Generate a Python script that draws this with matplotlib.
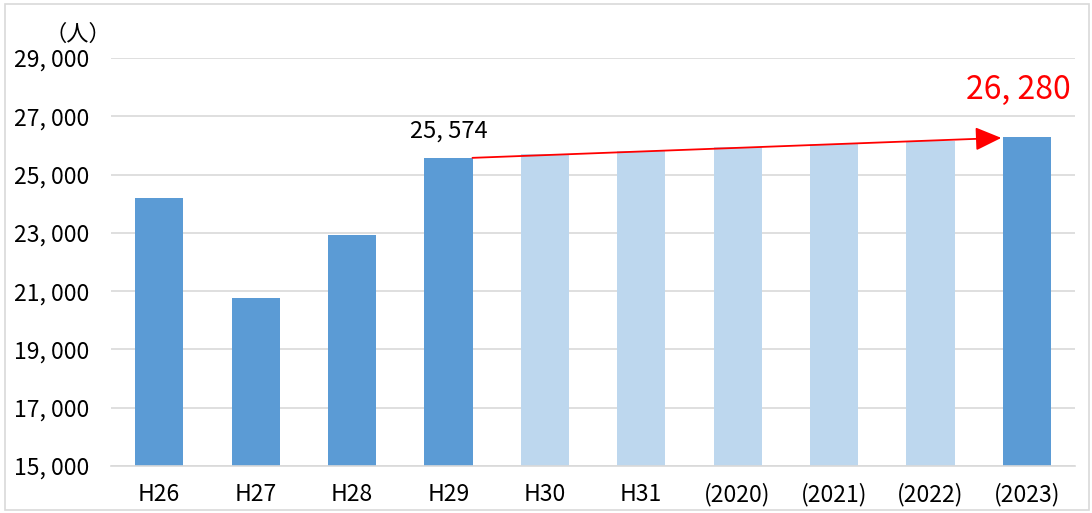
import matplotlib.pyplot as plt
from matplotlib.patches import Rectangle

plt.rcParams['font.family'] = ['Noto Sans CJK JP', 'DejaVu Sans']

categories = ['H26', 'H27', 'H28', 'H29', 'H30', 'H31', '(2020)', '(2021)', '(2022)', '(2023)']
values = [24200, 20770, 22930, 25574, 25690, 25810, 25930, 26040, 26160, 26280]
projected = [False, False, False, False, True, True, True, True, True, False]
yticks = [15000, 17000, 19000, 21000, 23000, 25000, 27000, 29000]

dark = '#5B9BD5'
light = '#BDD7EE'
grid = '#D9D9D9'

fig = plt.figure(figsize=(10.92, 5.13), dpi=100)
ax = fig.add_axes([111 / 1092, 47 / 513, 964 / 1092, 408 / 513])

x = list(range(len(categories)))
colors = [light if p else dark for p in projected]
ax.bar(x, values, width=0.5, color=colors, zorder=2)

ax.set_xlim(-0.5, len(categories) - 0.5)
ax.set_ylim(yticks[0], yticks[-1])
ax.set_yticks(yticks)
ax.set_yticklabels([f"{v // 1000}, {v % 1000:03d}" for v in yticks])
ax.set_xticks(x)
ax.set_xticklabels(categories)
ax.yaxis.grid(True, color=grid, linewidth=1.2, zorder=0)
ax.tick_params(axis='both', length=0, labelsize=16.5, colors='black')
ax.tick_params(axis='y', pad=16)
ax.tick_params(axis='x', pad=12)
for s in ['top', 'right', 'left']:
    ax.spines[s].set_visible(False)
ax.spines['bottom'].set_color(grid)
ax.spines['bottom'].set_linewidth(1.2)

# unit label
ax.text(-0.034, 1.03, '（人）', transform=ax.transAxes, fontsize=16,
        ha='center', va='bottom', clip_on=False)

# value labels
ax.annotate('25, 574', xy=(3, values[3]), xytext=(0, 19), textcoords='offset points',
            ha='center', va='center', fontsize=17)
ax.annotate('26, 280', xy=(9, values[9]), xytext=(-6, 34), textcoords='offset points',
            ha='center', va='center', fontsize=23, color='red')

# trend arrow
ax.annotate('', xy=(9 - 0.25, values[9] - 20), xytext=(3 + 0.25, values[3]),
            arrowprops=dict(arrowstyle='-|>,head_length=0.8,head_width=0.36',
                            mutation_scale=20, color='red', lw=1.3,
                            shrinkA=0, shrinkB=1), zorder=3)

# outer frame
fig.patches.append(Rectangle((5 / 1092, 3 / 513), 1084 / 1092, 506 / 513,
                             transform=fig.transFigure, fill=False,
                             edgecolor=grid, linewidth=1.2))

fig.savefig('out.png', dpi=100)
